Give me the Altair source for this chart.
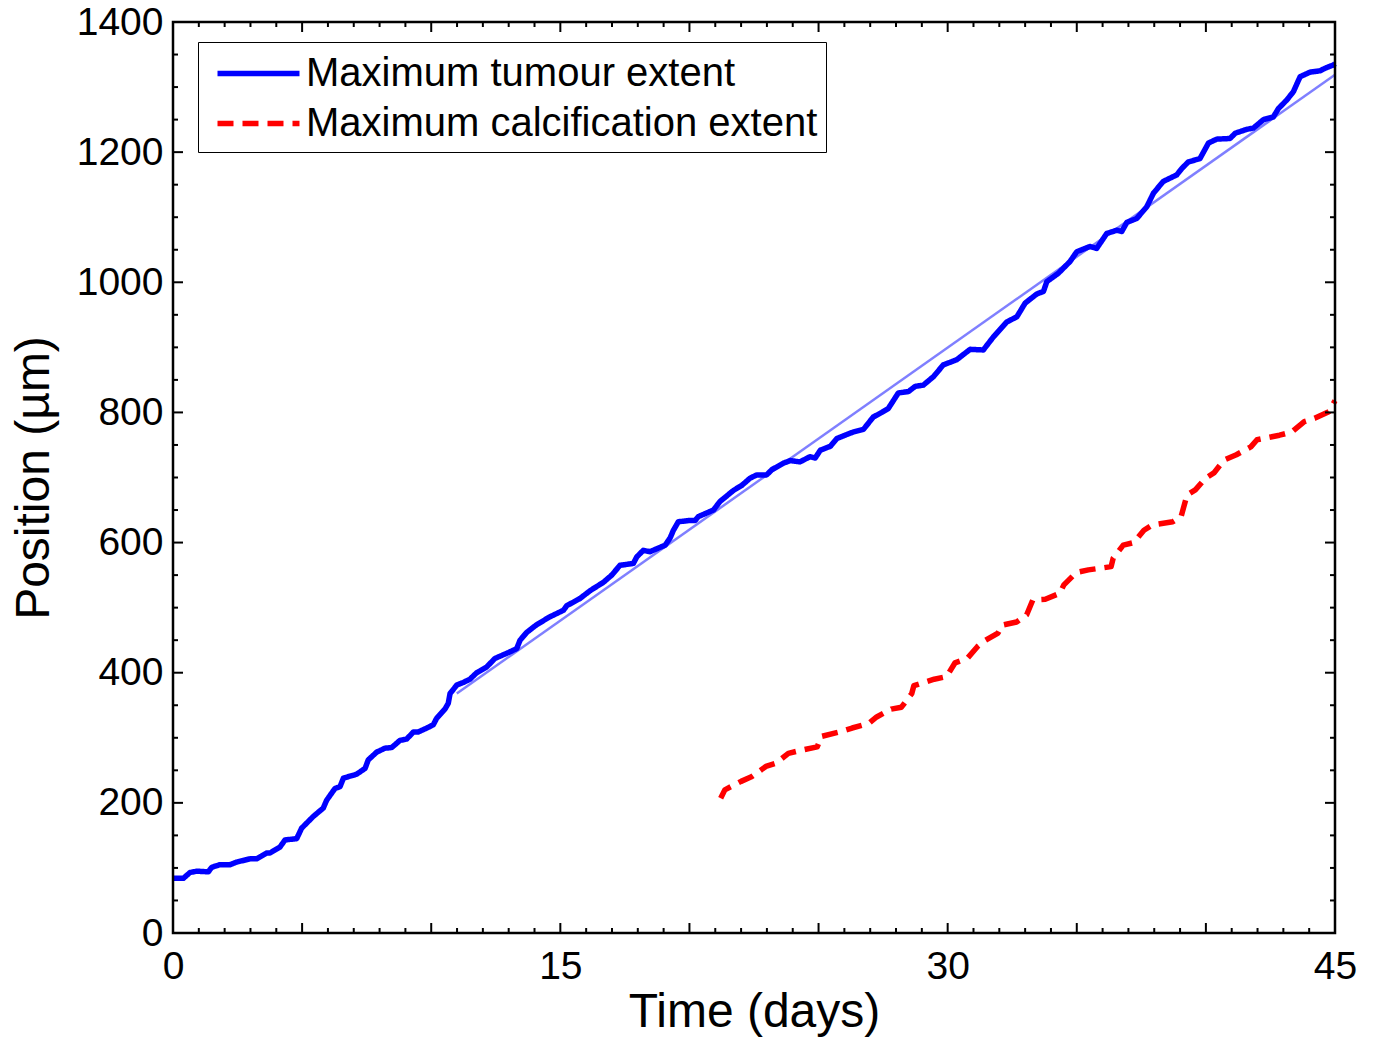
import altair as alt
import pandas as pd

# ---------------- data ----------------
blue_days = [0.00, 0.40, 0.66, 0.92, 1.37, 1.50, 1.82, 2.21, 2.47, 2.98, 3.24, 3.63, 3.76, 4.14,
             4.34, 4.79, 4.98, 5.43, 5.82, 5.95, 6.27, 6.47, 6.60, 7.11, 7.44, 7.56, 7.89, 8.21,
             8.47, 8.79, 9.05, 9.31, 9.50, 9.83, 10.08, 10.21, 10.53, 10.66, 10.73, 10.99, 11.24,
             11.50, 11.76, 12.15, 12.47, 12.99, 13.31, 13.44, 13.70, 14.09, 14.60, 15.12, 15.25,
             15.76, 16.15, 16.67, 16.99, 17.31, 17.83, 17.96, 18.21, 18.47, 19.06, 19.25, 19.38,
             19.57, 20.02, 20.22, 20.35, 20.93, 21.18, 21.70, 22.03, 22.35, 22.61, 22.99, 23.19,
             23.64, 23.90, 24.28, 24.67, 24.87, 25.07, 25.46, 25.71, 26.09, 26.35, 26.74, 27.12,
             27.45, 27.70, 28.09, 28.48, 28.74, 29.06, 29.45, 29.83, 30.35, 30.87, 31.38, 31.77,
             32.29, 32.68, 33.00, 33.45, 33.71, 33.84, 34.29, 34.74, 35.00, 35.51, 35.77, 36.16,
             36.55, 36.74, 36.94, 37.32, 37.71, 37.97, 38.35, 38.87, 39.07, 39.32, 39.77, 40.10,
             40.42, 40.94, 41.13, 41.58, 41.84, 42.23, 42.61, 42.81, 43.13, 43.39, 43.65, 44.04,
             44.42, 44.62, 44.94, 45.00]
blue_vals = [84, 84, 93, 95, 94, 101, 105, 105, 109, 114, 114, 123, 123, 132,
             143, 145, 161, 179, 192, 204, 222, 225, 238, 244, 253, 266, 278, 284,
             285, 296, 298, 309, 309, 315, 320, 330, 344, 353, 368, 381, 385,
             390, 400, 409, 422, 431, 437, 450, 462, 474, 486, 496, 503,
             514, 526, 539, 550, 565, 568, 578, 588, 586, 596, 607, 619,
             632, 634, 634, 640, 650, 663, 680, 688, 699, 704, 704, 712,
             722, 726, 724, 732, 730, 742, 748, 760, 766, 770, 774, 793,
             800, 806, 830, 832, 840, 842, 855, 873, 881, 897, 896, 916,
             939, 947, 968, 982, 986, 1001, 1014, 1032, 1047, 1055, 1052, 1075,
             1080, 1078, 1092, 1098, 1116, 1137, 1155, 1165, 1175, 1185, 1190, 1214,
             1220, 1221, 1229, 1235, 1237, 1250, 1254, 1267, 1280, 1293, 1316, 1323,
             1325, 1329, 1334, 1336]

red_days = [21.21, 21.37, 22.00, 22.40, 22.96, 23.35, 23.83, 24.23, 24.95, 25.10, 25.82, 26.30,
            26.94, 27.25, 27.81, 28.21, 28.61, 28.69, 29.48, 29.96, 30.28, 30.76, 31.15, 31.39,
            31.95, 32.11, 32.67, 33.06, 33.30, 33.78, 34.34, 34.50, 34.98, 35.45, 36.33, 36.41,
            36.80, 37.20, 37.60, 37.92, 38.72, 39.04, 39.27, 39.59, 39.99, 40.31, 40.71, 41.18,
            41.74, 41.98, 42.85, 43.33, 43.81, 44.21, 44.76, 45.00]
red_vals = [207, 220, 233, 240, 256, 261, 276, 280, 286, 302, 309, 315,
            322, 332, 344, 347, 368, 380, 390, 394, 415, 422, 440, 448,
            461, 473, 478, 489, 512, 513, 522, 535, 554, 558, 563, 576,
            596, 600, 619, 627, 632, 640, 673, 681, 699, 707, 727, 735,
            747, 758, 765, 770, 786, 791, 801, 818]

fit_days = [10.99, 45.00]
fit_vals = [368, 1319]

series_names = ["Maximum tumour extent", "Maximum calcification extent"]
series_colors = ["#0000ff", "#ff0000"]
series_dashes = [[1, 0], [16, 9]]

x_label_values = [0, 15, 30, 45]
y_label_values = [0, 200, 400, 600, 800, 1000, 1200, 1400]
x_major_ticks = [0, 5, 10, 15, 20, 25, 30, 35, 40, 45]
x_minor_ticks = [d for d in range(0, 46) if d % 5 != 0]
y_major_ticks = [0, 200, 400, 600, 800, 1000, 1200, 1400]
y_minor_ticks = [v for v in range(0, 1401, 50) if v % 200 != 0]

# ---------------- layout ----------------
W, H = 1162, 911
FONT = "Liberation Sans"

lines_df = pd.concat([
    pd.DataFrame({"day": blue_days, "pos": blue_vals, "series": series_names[0]}),
    pd.DataFrame({"day": red_days, "pos": red_vals, "series": series_names[1]}),
], ignore_index=True)
fit_df = pd.DataFrame({"day": fit_days, "pos": fit_vals})

xs = alt.Scale(domain=[0, 45], nice=False, zero=False)
ys = alt.Scale(domain=[0, 1400], nice=False, zero=False)
x_axis = alt.Axis(title="Time (days)", values=x_label_values, labelFlush=False, format="d",
                  labelPadding=14, titlePadding=2)
y_axis = alt.Axis(title="Position (µm)", values=y_label_values, labelFlush=False, format="d",
                  labelPadding=10, titlePadding=18)

legend_kw = dict(title=None, orient="none", legendX=25, legendY=20,
                 symbolType="M-2,0H2", symbolSize=1681, symbolStrokeWidth=5.5,
                 symbolOffset=29, labelOffset=24,
                 labelFont=FONT, labelFontSize=40, labelColor="black",
                 labelLimit=0, padding=8, rowPadding=6,
                 strokeColor="black", fillColor="white")

main = alt.Chart(lines_df).mark_line(strokeWidth=5.5, strokeJoin="round").encode(
    x=alt.X("day:Q", scale=xs, axis=x_axis),
    y=alt.Y("pos:Q", scale=ys, axis=y_axis),
    color=alt.Color("series:N", scale=alt.Scale(domain=series_names, range=series_colors),
                    legend=alt.Legend(**legend_kw)),
    strokeDash=alt.StrokeDash("series:N", scale=alt.Scale(domain=series_names, range=series_dashes),
                              legend=alt.Legend(**legend_kw)),
)

fit = alt.Chart(fit_df).mark_line(color="#0000ff", opacity=0.5, strokeWidth=2.5).encode(
    x=alt.X("day:Q", scale=xs, axis=x_axis),
    y=alt.Y("pos:Q", scale=ys, axis=y_axis),
)


def xticks(vals, length):
    df = pd.DataFrame({"day": vals})
    base = alt.Chart(df).mark_rule(color="black", strokeWidth=2)
    bottom = base.encode(x=alt.X("day:Q", scale=xs, axis=x_axis),
                         y=alt.value(H), y2=alt.value(H - length))
    top = base.encode(x=alt.X("day:Q", scale=xs, axis=x_axis),
                      y=alt.value(0), y2=alt.value(length))
    return [bottom, top]


def yticks(vals, length):
    df = pd.DataFrame({"pos": vals})
    base = alt.Chart(df).mark_rule(color="black", strokeWidth=2)
    left = base.encode(y=alt.Y("pos:Q", scale=ys, axis=y_axis),
                       x=alt.value(0), x2=alt.value(length))
    right = base.encode(y=alt.Y("pos:Q", scale=ys, axis=y_axis),
                        x=alt.value(W), x2=alt.value(W - length))
    return [left, right]


tick_layers = (xticks(x_major_ticks, 10) + xticks(x_minor_ticks, 5)
               + yticks(y_major_ticks, 10) + yticks(y_minor_ticks, 5))

frame = alt.Chart(pd.DataFrame({"k": [0]})).mark_rect(
    fill=None, fillOpacity=0, stroke="black", strokeWidth=2.5
).encode(x=alt.value(0), x2=alt.value(W), y=alt.value(0), y2=alt.value(H))

chart = alt.layer(main, fit, *tick_layers, frame).properties(
    width=W, height=H,
    background="white",
    autosize=alt.AutoSizeParams(type="none"),
    padding={"left": 173, "top": 22, "right": 39, "bottom": 107},
).configure_view(
    stroke=None
).configure_axis(
    labelFont=FONT, labelFontSize=39, labelColor="black",
    titleFont=FONT, titleFontSize=48, titleFontWeight="normal", titleColor="black",
    grid=False, domain=False, ticks=False
)

chart.save("out.html", embed_options={"renderer": "svg", "actions": False})
